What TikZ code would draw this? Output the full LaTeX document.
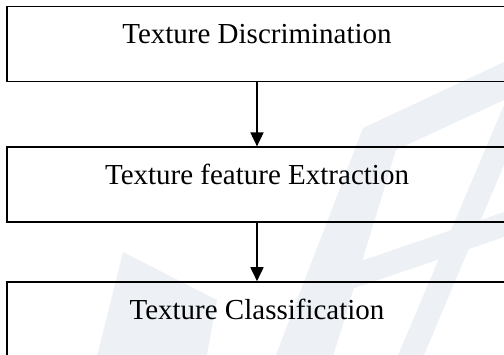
\documentclass[tikz,border=0pt]{standalone}
\usepackage{fontspec}
\setmainfont{Liberation Serif}
\usetikzlibrary{positioning, arrows.meta}
\definecolor{wmgray}{RGB}{237,241,245}
\begin{document}
\begin{tikzpicture}
			[x=1pt, y=1pt,
			stage/.style = {draw, line width=1.8pt, minimum width=500pt, minimum height=75pt,
				text height=20pt, text depth=20pt, font=\fontsize{29}{34}\selectfont},
			flow/.style = {-{Triangle[length=14pt, width=13pt]}, line width=1.8pt},
			watermark/.style = {fill=wmgray}]
			\useasboundingbox (0,0) rectangle (504,-355);
			% faint logo in the background
			\fill[watermark] (123,-252) -- (217,-300) -- (206,-360) -- (96,-360) -- cycle;
			\fill[watermark] (274,-360) -- (332,-360) -- (396,-150) -- (504,-100) -- (504,-62) -- (363,-128) -- cycle;
			\fill[watermark] (396,-360) -- (422,-360) -- (504,-165) -- (504,-105) -- cycle;
			\fill[watermark] (320,-300) -- (504,-237) -- (504,-212) -- (320,-275) -- cycle;
			\node[stage] (discrim) at (257,-44) {Texture Discrimination};
			\node[stage, below=64pt of discrim] (extract) {Texture feature Extraction};
			\node[stage, below=58pt of extract] (classif) {Texture Classification};
			\draw[flow] (discrim) -- (extract);
			\draw[flow] (extract) -- (classif);
		\end{tikzpicture}
\end{document}
